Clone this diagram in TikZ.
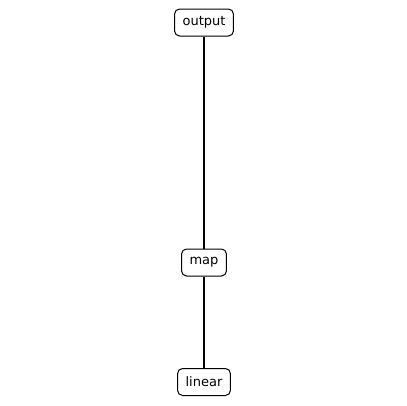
\documentclass[tikz,border=0pt]{standalone}
\usepackage{fontspec}
\setmainfont{DejaVu Sans}
\usepackage{tikz}
\tikzset{opbox/.style={draw, line width=1pt, rounded corners=5pt, fill=white, font=\fontsize{13}{15}\selectfont, inner xsep=8pt, minimum height=27pt}}

\begin{document}
\begin{tikzpicture}[x=1pt, y=-1pt]
\useasboundingbox (0,0) rectangle (407,405);
\node[opbox] (output) at (204,22.5) {output};
\node[opbox] (map) at (204,262.5) {map};
\node[opbox] (linear) at (204,382) {linear};
\draw[line width=1.1pt] (linear)--(map)--(output);
\end{tikzpicture}
\end{document}
